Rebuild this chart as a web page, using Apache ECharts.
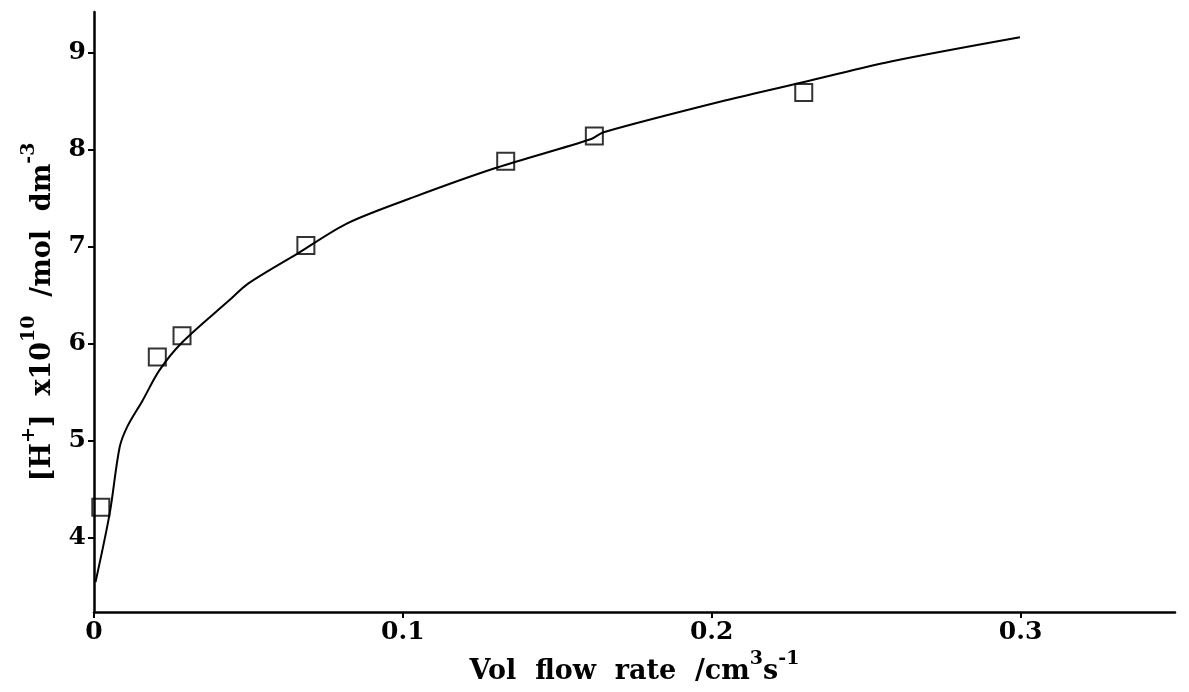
<!DOCTYPE html>
<html>
<head>
<meta charset="utf-8">
<script src="https://cdn.jsdelivr.net/npm/echarts@6/dist/echarts.min.js"></script>
<style>
html, body { margin: 0; padding: 0; background: #fff; }
#chart { width: 1189px; height: 692px; }
</style>
</head>
<body>
<div id="chart"></div>
<script>
// measured points (vol flow rate, [H+] x10^10)
const pointX = [0.0022, 0.0205, 0.0285, 0.0686, 0.1333, 0.162, 0.2298]
const pointY = [4.31, 5.86, 6.08, 7.01, 7.88, 8.14, 8.59]

// fitted curve
const curveX = [0.0005, 0.0051, 0.0083, 0.0109, 0.0157, 0.0211, 0.0285, 0.0436, 0.050, 0.066, 0.082, 0.1035, 0.130, 0.161, 0.165, 0.2047, 0.2316, 0.258, 0.2998]
const curveY = [3.54, 4.25, 4.93, 5.15, 5.41, 5.72, 6.01, 6.44, 6.62, 6.93, 7.24, 7.51, 7.81, 8.11, 8.18, 8.51, 8.71, 8.91, 9.16]

// tick labels
const xTicks = [0, 0.1, 0.2, 0.3]
const yTicks = [4, 5, 6, 7, 8, 9]

const font = 'DejaVu Serif'
const chart = echarts.init(document.getElementById('chart'))

// superscript: short line box pinned to the top of the taller base line
const sup = { fontFamily: font, fontWeight: 'bold', fontSize: 19, color: '#000', verticalAlign: 'top', lineHeight: 18 }
const base = { fontFamily: font, fontWeight: 'bold', fontSize: 27, color: '#000', lineHeight: 36, verticalAlign: 'bottom' }

chart.setOption({
    backgroundColor: '#fff',
    animation: false,
    grid: { left: 94, right: 14, top: 12, bottom: 80 },
    xAxis: {
        type: 'value',
        min: 0,
        max: 0.35,
        splitLine: { show: false },
        axisLine: { lineStyle: { color: '#000', width: 2.5 } },
        axisTick: { customValues: xTicks, length: 6, lineStyle: { color: '#000', width: 2 } },
        axisLabel: {
            customValues: xTicks,
            formatter: v => v === 0 ? '0' : v.toFixed(1),
            fontFamily: font, fontWeight: 'bold', fontSize: 25, color: '#000', margin: 8
        },
        name: '{b|Vol  flow  rate  /cm}{s|3}{b|s}{s|-1}',
        nameLocation: 'middle',
        nameGap: 29,
        nameTextStyle: { rich: { b: base, s: sup } }
    },
    yAxis: {
        type: 'value',
        min: 3.23,
        max: 9.42,
        splitLine: { show: false },
        axisLine: { lineStyle: { color: '#000', width: 2.5 } },
        axisTick: { customValues: yTicks, length: 6, lineStyle: { color: '#000', width: 2 } },
        axisLabel: {
            customValues: yTicks,
            fontFamily: font, fontWeight: 'bold', fontSize: 25, color: '#000', margin: 8
        },
        name: '{b|[H}{s|+}{b|]  x10}{s|10}{b|  /mol  dm}{s|-3}',
        nameLocation: 'middle',
        nameRotate: 90,
        nameGap: 38,
        nameTextStyle: { rich: { b: base, s: sup } }
    },
    series: [{
        type: 'line',
        data: curveX.map((x, i) => [x, curveY[i]]),
        smooth: 0.3,
        showSymbol: false,
        lineStyle: { color: '#000', width: 2 },
        z: 2
    }, {
        type: 'scatter',
        data: pointX.map((x, i) => [x, pointY[i]]),
        symbol: 'rect',
        symbolSize: 17,
        itemStyle: { color: 'rgba(255,255,255,0)', borderColor: '#000', borderWidth: 2 },
        z: 3
    }]
})
</script>
</body>
</html>
